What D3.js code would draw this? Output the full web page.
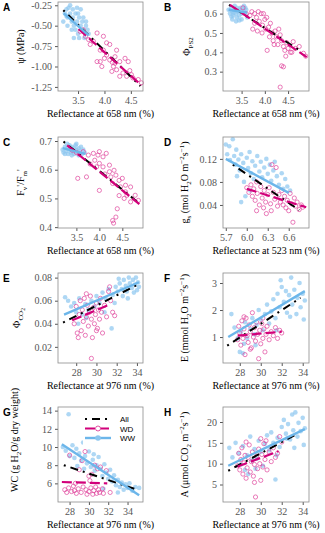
<!DOCTYPE html>
<html>
<head>
<meta charset="utf-8">
<script src="https://d3js.org/d3.v7.min.js"></script>
<style>
  body{ margin:0; background:#fff; }
</style>
</head>
<body>
<script>
// ---- data ----
// A: water potential vs R658
var wwA = [[3.22,-0.45],[3.25,-0.35],[3.28,-0.30],[3.30,-0.40],[3.32,-0.28],[3.35,-0.25],[3.35,-0.35],[3.38,-0.45],[3.40,-0.30],[3.40,-0.40],[3.42,-0.50],[3.45,-0.35],[3.45,-0.55],[3.48,-0.28],[3.48,-0.45],[3.50,-0.35],[3.50,-0.60],[3.52,-0.40],[3.55,-0.30],[3.55,-0.50],[3.58,-0.45],[3.60,-0.40],[3.60,-0.55],[3.62,-0.65],[3.65,-0.50],[3.68,-0.55],[3.70,-0.60],[3.42,-0.65],[3.38,-0.55],[3.30,-0.50],[3.52,-0.65],[3.65,-0.45],[3.28,-0.38]];
var wdA = [[3.54,-0.57],[3.60,-0.55],[3.64,-0.63],[3.70,-0.67],[3.73,-0.73],[3.79,-0.69],[3.86,-0.59],[3.98,-0.63],[3.92,-0.80],[3.86,-0.94],[3.92,-0.94],[3.98,-0.80],[4.04,-0.86],[4.04,-0.71],[4.10,-0.73],[4.10,-0.92],[4.14,-1.06],[4.17,-1.00],[4.20,-0.88],[4.20,-0.96],[4.23,-0.80],[4.23,-1.04],[4.29,-0.94],[4.29,-1.12],[4.35,-1.08],[4.39,-0.90],[4.42,-1.12],[4.45,-0.94],[4.48,-1.05],[4.51,-1.10],[4.54,-1.14],[4.64,-1.16],[4.70,-1.20],[3.95,-1.00],[4.00,-0.90],[4.15,-0.95]];
var fitA = {all:[[3.22,-0.31],[4.68,-1.24]], wd:[[3.51,-0.54],[4.70,-1.23]], ww:[[3.23,-0.35],[3.70,-0.62]]};

// B: PhiPS2 vs R658
var wwB = [[3.22,0.62],[3.25,0.60],[3.28,0.63],[3.30,0.61],[3.32,0.59],[3.35,0.62],[3.35,0.64],[3.38,0.60],[3.40,0.63],[3.40,0.58],[3.42,0.61],[3.45,0.62],[3.45,0.59],[3.48,0.63],[3.50,0.60],[3.50,0.57],[3.52,0.62],[3.55,0.61],[3.55,0.64],[3.58,0.60],[3.60,0.62],[3.62,0.58],[3.30,0.57],[3.38,0.56],[3.45,0.565],[3.28,0.585],[3.33,0.605],[3.58,0.63]];
var wdB = [[3.53,0.63],[3.60,0.60],[3.68,0.59],[3.72,0.61],[3.78,0.60],[3.82,0.58],[3.86,0.61],[3.88,0.56],[3.92,0.60],[3.95,0.54],[3.97,0.60],[4.00,0.57],[4.04,0.58],[3.78,0.55],[3.74,0.52],[3.84,0.51],[3.94,0.50],[4.02,0.52],[4.08,0.53],[4.12,0.55],[4.16,0.50],[4.18,0.46],[4.22,0.51],[4.25,0.48],[4.28,0.44],[4.33,0.49],[4.36,0.46],[4.40,0.43],[4.43,0.41],[4.47,0.45],[4.50,0.42],[4.55,0.40],[4.58,0.40],[4.61,0.455],[4.66,0.42],[4.74,0.43],[4.83,0.395],[4.88,0.38],[4.36,0.33],[4.40,0.325],[4.33,0.22],[4.05,0.41],[4.10,0.48],[4.30,0.52],[4.20,0.44],[4.45,0.38]];
var fitB = {all:[[3.23,0.645],[4.78,0.405]], wd:[[3.25,0.645],[4.90,0.375]], ww:[[3.22,0.62],[3.62,0.605]]};

// C: Fv'/Fm' vs R658
var wwC = [[3.20,0.67],[3.22,0.66],[3.25,0.68],[3.28,0.665],[3.30,0.675],[3.32,0.655],[3.35,0.685],[3.35,0.67],[3.38,0.66],[3.40,0.68],[3.42,0.665],[3.45,0.675],[3.45,0.655],[3.48,0.685],[3.50,0.67],[3.52,0.66],[3.55,0.675],[3.58,0.665],[3.60,0.68],[3.62,0.655],[3.65,0.67],[3.68,0.66],[3.30,0.69],[3.40,0.65],[3.55,0.65],[3.25,0.655],[3.50,0.69]];
var wdC = [[3.41,0.668],[3.50,0.660],[3.56,0.655],[3.65,0.663],[3.76,0.651],[3.87,0.657],[3.97,0.651],[4.00,0.663],[4.08,0.645],[4.15,0.657],[3.90,0.633],[4.00,0.622],[3.94,0.610],[4.08,0.610],[4.22,0.616],[4.22,0.593],[4.32,0.598],[4.36,0.581],[4.25,0.575],[4.43,0.563],[4.50,0.570],[4.29,0.552],[4.46,0.540],[4.57,0.546],[4.68,0.540],[4.57,0.523],[4.43,0.510],[4.60,0.511],[4.78,0.511],[4.85,0.493],[4.68,0.488],[4.54,0.500],[4.39,0.464],[4.36,0.435],[4.29,0.423],[4.31,0.414],[3.72,0.575],[4.00,0.528],[3.53,0.570],[3.80,0.620],[4.12,0.585]];
var fitC = {all:[[3.22,0.698],[4.85,0.485]], wd:[[3.30,0.685],[4.87,0.480]], ww:[[3.20,0.675],[3.70,0.655]]};

// D: gs vs R523
var wwD = [[5.70,0.145],[5.72,0.128],[5.75,0.142],[5.76,0.118],[5.80,0.154],[5.82,0.125],[5.84,0.110],[5.85,0.136],[5.88,0.119],[5.90,0.100],[5.92,0.128],[5.95,0.113],[5.96,0.080],[6.00,0.122],[6.02,0.104],[6.04,0.132],[6.06,0.095],[6.08,0.116],[6.10,0.085],[6.12,0.108],[6.15,0.125],[6.18,0.098],[6.20,0.115],[6.22,0.088],[6.25,0.105],[6.28,0.120],[6.30,0.094],[6.33,0.110],[6.35,0.082],[6.38,0.100],[6.40,0.115],[6.43,0.090],[6.46,0.075],[6.50,0.095],[6.52,0.068],[6.55,0.085],[6.58,0.072],[6.62,0.065],[5.98,0.055],[5.92,0.045],[6.05,0.065],[5.86,0.090]];
var wdD = [[6.00,0.070],[6.03,0.062],[6.06,0.075],[6.08,0.055],[6.10,0.068],[6.12,0.048],[6.14,0.080],[6.15,0.060],[6.18,0.040],[6.20,0.072],[6.22,0.052],[6.24,0.035],[6.25,0.065],[6.27,0.045],[6.28,0.025],[6.30,0.058],[6.32,0.070],[6.34,0.042],[6.36,0.110],[6.38,0.062],[6.40,0.050],[6.42,0.105],[6.44,0.038],[6.46,0.058],[6.48,0.045],[6.50,0.065],[6.52,0.040],[6.54,0.055],[6.56,0.035],[6.58,0.048],[6.60,0.030],[6.62,0.060],[6.64,0.042],[6.66,0.010],[6.68,0.052],[6.70,0.038],[6.72,0.045],[6.75,0.032],[6.78,0.040],[6.80,0.036],[6.14,0.030],[6.35,0.030]];
var fitD = {all:[[5.80,0.110],[6.75,0.031]], wd:[[6.00,0.068],[6.85,0.036]], ww:[[5.70,0.120],[6.60,0.061]]};

// E: PhiCO2 vs R976
var wwE = [[26.9,0.063],[27.2,0.060],[27.5,0.055],[27.8,0.058],[28.0,0.050],[28.3,0.062],[28.6,0.048],[28.9,0.057],[29.2,0.052],[29.5,0.060],[29.8,0.055],[30.0,0.064],[30.3,0.058],[30.6,0.067],[30.9,0.062],[31.2,0.070],[31.5,0.036],[31.6,0.065],[31.9,0.072],[32.1,0.068],[32.3,0.075],[32.5,0.070],[32.7,0.078],[32.9,0.073],[33.0,0.068],[33.2,0.080],[33.3,0.075],[33.5,0.071],[33.6,0.078],[33.8,0.074],[33.9,0.080],[34.0,0.069],[34.1,0.076],[34.2,0.072],[33.1,0.062],[32.6,0.064],[31.8,0.058],[30.8,0.050],[29.0,0.045],[28.2,0.040],[33.7,0.067],[32.2,0.079]];
var wdE = [[27.8,0.040],[28.0,0.055],[28.1,0.032],[28.3,0.048],[28.4,0.060],[28.5,0.034],[28.6,0.052],[28.7,0.042],[28.8,0.062],[28.9,0.030],[29.0,0.046],[29.1,0.056],[29.2,0.038],[29.3,0.050],[29.4,0.064],[29.5,0.044],[29.6,0.028],[29.7,0.054],[29.8,0.040],[29.9,0.048],[30.0,0.058],[30.1,0.036],[30.2,0.052],[30.3,0.044],[30.4,0.062],[30.5,0.050],[30.6,0.032],[30.8,0.056],[31.0,0.046],[31.2,0.068],[31.4,0.060],[31.6,0.050],[31.8,0.047],[31.3,0.072],[29.5,0.010],[28.2,0.028],[29.0,0.066],[30.0,0.034]];
var fitE = {all:[[26.7,0.041],[34.1,0.074]], wd:[[27.6,0.043],[31.4,0.057]], ww:[[26.8,0.048],[34.2,0.076]]};

// F: E vs R976
var wwF = [[27.2,1.85],[27.5,1.35],[27.8,0.95],[28.0,0.45],[28.1,1.20],[28.3,0.40],[28.5,1.55],[28.7,0.95],[29.0,1.30],[29.2,1.70],[29.4,1.10],[29.6,1.45],[29.8,2.00],[30.0,1.65],[30.2,1.25],[30.4,1.85],[30.6,2.20],[30.8,1.50],[31.0,1.95],[31.2,2.40],[31.4,1.70],[31.6,2.60],[31.8,2.10],[31.9,3.10],[32.0,2.85],[32.2,2.30],[32.4,2.70],[32.5,1.90],[32.7,2.55],[32.9,3.20],[33.0,2.20],[33.2,2.75],[33.4,1.85],[33.5,2.45],[33.7,3.00],[33.8,2.10],[34.0,2.60],[34.1,1.65],[34.2,2.35],[32.8,1.75],[31.5,1.25],[29.5,0.70],[28.4,0.75]];
var wdF = [[27.8,0.90],[27.9,1.40],[28.0,1.15],[28.1,0.70],[28.2,1.60],[28.3,0.95],[28.4,1.30],[28.5,0.35],[28.6,1.70],[28.7,1.05],[28.8,0.80],[28.9,1.45],[29.0,1.20],[29.1,0.60],[29.2,1.90],[29.3,1.00],[29.4,1.35],[29.5,0.85],[29.6,1.55],[29.7,1.10],[29.8,0.20],[29.9,1.25],[30.0,0.75],[30.1,1.50],[30.2,0.95],[30.3,1.30],[30.4,0.45],[30.5,1.10],[30.6,1.40],[30.8,0.90],[31.0,1.20],[31.2,1.05],[31.4,1.35],[31.6,0.95],[31.8,1.25],[32.0,1.15],[28.4,1.75],[29.0,0.55],[30.2,1.70]];
var fitF = {all:[[26.8,0.68],[33.8,2.45]], wd:[[27.8,1.05],[32.0,1.20]], ww:[[26.9,1.00],[34.2,2.70]]};

// G: water content vs R976
var wwG = [[27.3,10.0],[27.6,9.6],[27.9,13.6],[28.0,9.0],[28.3,10.2],[28.5,8.8],[28.7,9.8],[29.0,9.3],[29.2,8.5],[29.4,10.5],[29.6,9.0],[29.8,8.2],[30.0,9.5],[30.2,7.8],[30.4,8.6],[30.6,7.4],[30.8,8.0],[31.0,8.9],[31.2,7.6],[31.4,6.8],[31.6,8.1],[31.8,7.2],[32.0,6.5],[32.2,7.5],[32.4,6.2],[32.6,6.9],[32.8,5.8],[33.0,6.4],[33.2,5.6],[33.4,6.1],[33.6,5.3],[33.8,5.9],[34.0,5.5],[34.2,6.0],[34.5,5.2],[34.8,5.6],[35.2,5.5],[33.0,5.0],[31.5,5.4],[30.5,9.2],[29.5,7.6],[28.8,7.9]];
var wdG = [[27.5,5.3],[27.7,5.0],[27.9,5.5],[28.0,9.1],[28.2,5.1],[28.4,5.7],[28.5,5.2],[28.7,4.9],[28.9,5.4],[29.0,7.5],[29.2,5.0],[29.4,5.6],[29.6,9.5],[29.7,5.3],[29.8,4.8],[30.0,6.8],[30.0,5.1],[30.2,5.5],[30.3,7.0],[30.4,4.8],[30.5,5.2],[30.6,8.0],[30.7,5.6],[30.8,4.9],[30.9,7.6],[31.0,5.3],[31.1,5.0],[31.2,7.8],[31.4,5.4],[31.5,4.9],[31.8,7.4],[32.2,5.0],[29.3,8.5],[30.1,6.3],[28.6,6.0]];
var fitG = {all:[[27.4,8.0],[34.7,5.4]], wd:[[27.2,6.15],[31.9,6.0]], ww:[[27.2,10.3],[35.2,4.7]]};

// H: A vs R976
var wwH = [[27.0,13.8],[27.3,11.5],[27.6,15.0],[27.9,12.5],[28.1,9.8],[28.3,14.2],[28.5,8.5],[28.7,12.0],[29.0,16.5],[29.2,10.8],[29.4,13.5],[29.6,11.2],[29.8,15.5],[30.0,12.8],[30.2,9.5],[30.4,14.8],[30.6,16.8],[30.8,13.2],[31.0,17.5],[31.2,15.0],[31.4,6.2],[31.6,16.2],[31.8,14.0],[32.0,18.8],[32.2,20.5],[32.4,17.2],[32.6,19.5],[32.8,15.8],[33.0,21.8],[33.1,18.0],[33.3,22.3],[33.5,16.5],[33.6,19.8],[33.8,17.8],[34.0,21.0],[34.1,14.5],[34.2,18.5],[33.2,13.8],[32.5,16.0],[31.5,12.0],[28.8,7.5],[29.5,8.8]];
var wdH = [[27.8,9.5],[27.9,12.5],[28.0,8.5],[28.1,11.0],[28.2,13.8],[28.3,7.5],[28.4,10.2],[28.5,12.0],[28.6,6.5],[28.7,9.0],[28.8,11.5],[28.9,14.5],[29.0,8.0],[29.1,10.5],[29.2,12.8],[29.3,7.0],[29.4,9.8],[29.5,2.0],[29.6,11.8],[29.7,8.8],[29.8,13.5],[29.9,10.0],[30.0,6.0],[30.1,12.2],[30.2,9.2],[30.3,14.8],[30.4,11.0],[30.5,15.5],[30.6,8.5],[30.8,12.8],[31.0,10.5],[31.2,13.8],[31.4,11.5],[31.6,12.5],[31.8,16.5],[32.0,15.2],[28.6,15.2],[29.4,5.5],[30.0,16.0]];
var fitH = {all:[[26.9,8.3],[33.5,17.2]], wd:[[27.8,9.3],[31.7,13.0]], ww:[[26.9,9.5],[34.2,18.3]]};

// tick labels
var xTicks658 = [3.5, 4.0, 4.5];
var xTicks523 = [5.7, 6.0, 6.3, 6.6];
var xTicks976 = [28, 30, 32, 34];
var yTicksA = [-1.25, -1.00, -0.75, -0.50, -0.25];
var yTicksB = [0.3, 0.4, 0.5, 0.6];
var yTicksC = [0.4, 0.5, 0.6, 0.7];
var yTicksD = [0.04, 0.08, 0.12];
var yTicksE = [0.02, 0.04, 0.06, 0.08];
var yTicksF = [1, 2, 3];
var yTicksG = [6, 8, 10, 12, 14];
var yTicksH = [5, 10, 15, 20];
var groups = ["All", "WD", "WW"];

// ---- layout ----
var width = 325, height = 533;
var serif = "'Liberation Serif', 'Times New Roman', 'DejaVu Serif', serif";
var sans = "'Liberation Sans', Arial, sans-serif";
var cols = [[58, 143], [223, 309]];
var rows = [[2, 91], [137, 228], [273, 363], [407, 502]];
var colWW = "#6cb6ea", colWD = "#d1007a", ptWW = "#8cc6ef", ptWD = "#de3f98";
var lineStyle = {
  All: {color: "#000", width: 2, dash: "2,5,8,5"},
  WD: {color: colWD, width: 2.2, dash: "10,4"},
  WW: {color: colWW, width: 2.4, dash: null}
};

var svg = d3.select("body").append("svg")
  .attr("width", width)
  .attr("height", height);

var panels = [
  {key:"A", col:0, row:0, ww:wwA, wd:wdA, fit:fitA, xd:[3.12,4.73], yd:[-1.30,-0.21], xt:xTicks658, yt:yTicksA, xf:1, yf:2, xlab:"Reflectance at 658 nm (%)",
   ylab:[["\u03C8 (MPa)",""]], ylx:24},
  {key:"B", col:1, row:0, ww:wwB, wd:wdB, fit:fitB, xd:[3.1,4.95], yd:[0.20,0.66], xt:xTicks658, yt:yTicksB, xf:1, yf:1, xlab:"Reflectance at 658 nm (%)",
   ylab:[["\u03A6",""],["PS2","sub"]], ylx:190},
  {key:"C", col:0, row:1, ww:wwC, wd:wdC, fit:fitC, xd:[3.1,4.95], yd:[0.397,0.714], xt:xTicks658, yt:yTicksC, xf:1, yf:1, xlab:"Reflectance at 658 nm (%)",
   ylab:[["F",""],["v","sub"],["'/F",""],["m","sub"],["'",""]], ylx:24},
  {key:"D", col:1, row:1, ww:wwD, wd:wdD, fit:fitD, xd:[5.66,6.89], yd:[0.0,0.158], xt:xTicks523, yt:yTicksD, xf:1, yf:2, xlab:"Reflectance at 523 nm (%)",
   ylab:[["g",""],["s","sub"],[" (mol H",""],["2","sub"],["O m",""],["\u22122","sup"],["s",""],["\u22121","sup"],[")",""]], ylx:188},
  {key:"E", col:0, row:2, ww:wwE, wd:wdE, fit:fitE, xd:[26.2,34.6], yd:[0.006,0.084], xt:xTicks976, yt:yTicksE, xf:0, yf:2, xlab:"Reflectance at 976 nm (%)",
   ylab:[["\u03A6",""],["CO","sub"],["2","sub2"]], ylx:20},
  {key:"F", col:1, row:2, ww:wwF, wd:wdF, fit:fitF, xd:[26.4,34.6], yd:[0.04,3.37], xt:xTicks976, yt:yTicksF, xf:0, yf:0, xlab:"Reflectance at 976 nm (%)",
   ylab:[["E (mmol H",""],["2","sub"],["O m",""],["\u22122","sup"],["s",""],["\u22121","sup"],[")",""]], ylx:188},
  {key:"G", col:0, row:3, ww:wwG, wd:wdG, fit:fitG, xd:[26.8,35.6], yd:[3.95,14.4], xt:xTicks976, yt:yTicksG, xf:0, yf:0, xlab:"Reflectance at 976 nm (%)",
   ylab:[["WC (g H",""],["2","sub"],["O/g dry weight)",""]], ylx:18, yly:440},
  {key:"H", col:1, row:3, ww:wwH, wd:wdH, fit:fitH, xd:[26.4,34.6], yd:[0.8,23.6], xt:xTicks976, yt:yTicksH, xf:0, yf:0, xlab:"Reflectance at 976 nm (%)",
   ylab:[["A (\u03BCmol CO",""],["2","sub"],[" m",""],["\u22122","sup"],["s",""],["\u22121","sup"],[")",""]], ylx:188}
];

function richLabel(parent, parts, cx, cy) {
  var t = parent.append("text")
    .attr("transform", "translate(" + cx + "," + cy + ") rotate(-90)")
    .attr("text-anchor", "middle")
    .attr("font-family", serif)
    .attr("font-size", 10)
    .attr("fill", "#000");
  var cur = 0;
  parts.forEach(function(p) {
    var off = p[1] == "sub" ? 3 : p[1] == "sup" ? -4 : p[1] == "sub2" ? 5 : 0;
    var fs = p[1] == "" ? 10 : p[1] == "sub2" ? 5.5 : 7;
    t.append("tspan").attr("dy", off - cur).attr("font-size", fs).text(p[0]);
    cur = off;
  });
}

panels.forEach(function(p) {
  var x0 = cols[p.col][0], x1 = cols[p.col][1];
  var y0 = rows[p.row][0], y1 = rows[p.row][1];
  var x = d3.scaleLinear().domain(p.xd).range([x0, x1]);
  var y = d3.scaleLinear().domain(p.yd).range([y1, y0]);
  var g = svg.append("g");

  g.append("rect")
    .attr("x", x0).attr("y", y0)
    .attr("width", x1 - x0).attr("height", y1 - y0)
    .attr("fill", "#fff");

  g.append("g")
    .attr("transform", "translate(0," + y1 + ")")
    .call(d3.axisBottom(x).tickValues(p.xt).tickSize(3).tickPadding(3)
      .tickFormat(function(d) { return d.toFixed(p.xf); }))
    .attr("font-family", serif).attr("font-size", 10)
    .style("color", "#555")
    .call(function(a) { a.select(".domain").remove(); });

  g.append("g")
    .attr("transform", "translate(" + x0 + ",0)")
    .call(d3.axisLeft(y).tickValues(p.yt).tickSize(3).tickPadding(3)
      .tickFormat(function(d) { return d.toFixed(p.yf); }))
    .attr("font-family", serif).attr("font-size", 10)
    .style("color", "#555")
    .call(function(a) { a.select(".domain").remove(); });

  // points
  g.append("g").selectAll("circle")
    .data(p.ww).enter().append("circle")
      .attr("cx", function(d) { return x(d[0]); })
      .attr("cy", function(d) { return y(d[1]); })
      .attr("r", 2.3)
      .attr("fill", ptWW)
      .attr("opacity", 0.7);

  g.append("g").selectAll("circle")
    .data(p.wd).enter().append("circle")
      .attr("cx", function(d) { return x(d[0]); })
      .attr("cy", function(d) { return y(d[1]); })
      .attr("r", 2.1)
      .attr("fill", "none")
      .attr("stroke", ptWD)
      .attr("stroke-width", 0.8)
      .attr("opacity", 0.85);

  // fitted lines
  var line = d3.line().x(function(d) { return x(d[0]); }).y(function(d) { return y(d[1]); });
  [["All", p.fit.all], ["WD", p.fit.wd], ["WW", p.fit.ww]].forEach(function(f) {
    var s = lineStyle[f[0]];
    g.append("path")
      .attr("d", line(f[1]))
      .attr("fill", "none")
      .attr("stroke", s.color)
      .attr("stroke-width", s.width)
      .attr("stroke-dasharray", s.dash);
  });

  // box
  g.append("rect")
    .attr("x", x0).attr("y", y0)
    .attr("width", x1 - x0).attr("height", y1 - y0)
    .attr("fill", "none")
    .attr("stroke", "#8c8c8c")
    .attr("stroke-width", 0.8);

  // titles
  g.append("text")
    .attr("x", (x0 + x1) / 2)
    .attr("y", y1 + 26)
    .attr("text-anchor", "middle")
    .attr("font-family", serif)
    .attr("font-size", 10)
    .text(p.xlab);

  richLabel(g, p.ylab, p.ylx, p.yly || (y0 + y1) / 2);

  g.append("text")
    .attr("x", p.col == 0 ? 3 : 164)
    .attr("y", y0 + 9)
    .attr("font-family", sans)
    .attr("font-weight", "bold")
    .attr("font-size", 10)
    .text(p.key);

  if (p.key == "G") {
    var lg = g.append("g");
    lg.append("rect").attr("x", 83).attr("y", 413).attr("width", 58).attr("height", 32).attr("fill", "#fff");
    groups.forEach(function(name, i) {
      var ly = 419 + i * 9.5;
      var s = lineStyle[name];
      lg.append("line")
        .attr("x1", 85).attr("x2", 111).attr("y1", ly).attr("y2", ly)
        .attr("stroke", s.color).attr("stroke-width", s.width)
        .attr("stroke-dasharray", s.dash);
      if (name == "WD") {
        lg.append("circle").attr("cx", 98).attr("cy", ly).attr("r", 2.5)
          .attr("fill", "#fff").attr("stroke", ptWD).attr("stroke-width", 0.9);
      } else if (name == "WW") {
        lg.append("circle").attr("cx", 98).attr("cy", ly).attr("r", 2.8).attr("fill", ptWW);
      }
      lg.append("text")
        .attr("x", 120).attr("y", ly + 3)
        .attr("font-family", sans)
        .attr("font-size", 8)
        .text(name);
    });
  }
});
</script>
</body>
</html>
